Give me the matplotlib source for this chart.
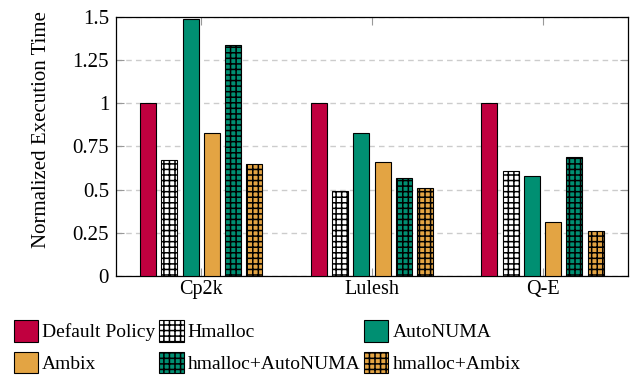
import numpy as np
import matplotlib.pyplot as plt
from matplotlib.patches import Patch

plt.rcParams['font.family'] = ['Liberation Serif', 'DejaVu Serif']
plt.rcParams['hatch.linewidth'] = 1.1

benchmarks = ["Cp2k", "Lulesh", "Q-E"]
policies = ["Default Policy", "Hmalloc", "AutoNUMA",
            "Ambix", "hmalloc+AutoNUMA", "hmalloc+Ambix"]

default_policy = [1.0, 1.0, 1.0]
hmalloc = [0.67, 0.49, 0.61]
autonuma = [1.49, 0.83, 0.58]
ambix = [0.83, 0.66, 0.31]
hmalloc_autonuma = [1.34, 0.57, 0.69]
hmalloc_ambix = [0.65, 0.51, 0.26]

yticks = [0, 0.25, 0.5, 0.75, 1, 1.25, 1.5]
ytick_labels = ["0", "0.25", "0.5", "0.75", "1", "1.25", "1.5"]

red = "#c0003f"
teal = "#008f72"
orange = "#e3a443"

series = [default_policy, hmalloc, autonuma, ambix, hmalloc_autonuma, hmalloc_ambix]
styles = [
    dict(color=red, hatch=None),
    dict(color="white", hatch="+++"),
    dict(color=teal, hatch=None),
    dict(color=orange, hatch=None),
    dict(color=teal, hatch="+++"),
    dict(color=orange, hatch="+++"),
]

fig = plt.figure(figsize=(6.42, 3.85), dpi=100)
ax = fig.add_axes([0.1807, 0.283, 0.7973, 0.673])

x = np.arange(len(benchmarks))
step = 0.1245
width = 0.094
for i, (vals, st) in enumerate(zip(series, styles)):
    ax.bar(x + (i - 2.5) * step, vals, width, color=st["color"], hatch=st["hatch"],
           edgecolor="black", linewidth=0.8, zorder=3)

ax.set_xlim(-0.5, 2.5)
ax.set_ylim(0, 1.5)
ax.set_xticks(x)
ax.set_xticklabels(benchmarks, fontsize=14.5)
ax.set_yticks(yticks)
ax.set_yticklabels(ytick_labels, fontsize=15)
ax.tick_params(direction="in", length=6, color="#999999", top=True, right=True)
ax.tick_params(axis="x", pad=3)
ax.tick_params(axis="y", pad=5)
ax.yaxis.grid(True, linestyle=(0, (4, 3)), color="#cccccc", linewidth=1.0, zorder=0)
ax.set_ylabel("Normalized Execution Time", fontsize=15)
ax.yaxis.set_label_coords(-0.127, 0.567)
for sp in ax.spines.values():
    sp.set_linewidth(0.9)

# legend is filled column-major, so reorder to get the row layout
handles = [Patch(facecolor=st["color"], hatch=st["hatch"], edgecolor="black", linewidth=0.8)
           for st in styles]
order = [0, 3, 1, 4, 2, 5]
fig.legend([handles[i] for i in order], [policies[i] for i in order],
           ncol=3, loc="upper left", bbox_to_anchor=(14 / 642, 1 - 320 / 385),
           frameon=False, fontsize=14, borderpad=0, borderaxespad=0,
           handlelength=1.25, handleheight=1.35, handletextpad=0.2,
           columnspacing=0.2, labelspacing=0.5)

fig.savefig("out.png", dpi=100)
